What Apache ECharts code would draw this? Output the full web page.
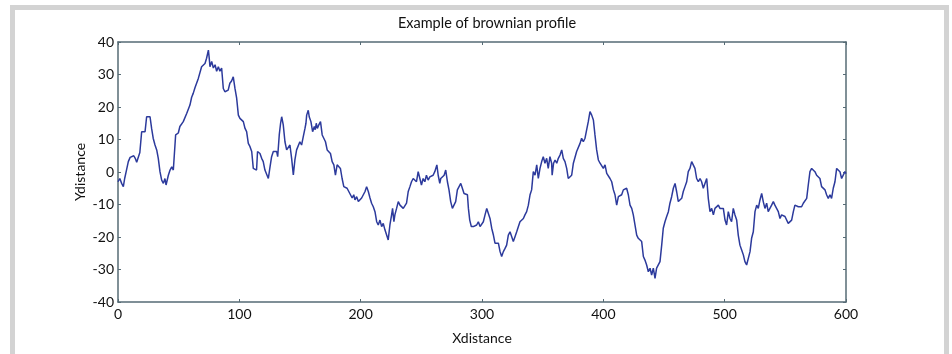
<!DOCTYPE html>
<html>
<head>
<meta charset="utf-8">
<script src="https://cdn.jsdelivr.net/npm/echarts@6/dist/echarts.min.js"></script>
<style>
  html, body { margin: 0; padding: 0; background: #fff; }
  #frame { position: absolute; left: 10px; top: 5px; width: 929px; height: 350px; border: 5px solid #d3d3d3; box-sizing: content-box; }
  #chart { position: absolute; left: 0; top: 0; width: 952px; height: 354px; }
</style>
</head>
<body>
<div id="frame"></div>
<div id="chart"></div>
<script>
// brownian profile
const xs = [
  0, 1.5, 3, 4.4, 5.5, 7, 8.5, 10, 11.5, 13, 14.2, 15.4, 18, 19.5, 21, 22.3, 23.6, 25, 26.4, 27.7,
  29, 30.5, 31.9, 33.2, 34.6, 36, 37.4, 38.7, 39.6, 41.5, 42.9, 44.3, 45.6, 46.5, 47.5, 48.4, 49.7, 51, 52.5, 53.8,
  55.2, 56.6, 59.3, 60.7, 62, 63.5, 64.8, 66.2, 67.5, 68.9, 70.3, 71.7, 73, 74.5, 75.2, 75.8, 77.2, 78.6, 80, 81.3,
  82.7, 84, 85.4, 86.8, 88.1, 89.5, 90.8, 92.2, 93.6, 95, 96.4, 97.8, 99.2, 100.5, 101.9, 103.3, 104.7, 106, 107.4, 108.8,
  110.2, 111.5, 112.9, 114.2, 115, 117, 118.4, 119.7, 121.1, 122.5, 123.9, 125.3, 126.6, 128, 129.4, 130.8, 131.6, 132.9, 134, 134.9,
  136.2, 137.6, 139, 140.4, 141.7, 143.1, 144.5, 145.8, 147.2, 148.6, 149.9, 151.3, 152.7, 154.1, 154.9, 155.5, 156.8, 157.6, 159, 160.4,
  161.8, 162.6, 163.4, 164.3, 165.5, 166.9, 168.3, 169.6, 171, 172.4, 173.7, 175.1, 176.5, 177.9, 179.2, 180.6, 182, 183.3, 184.7, 186.1,
  187.5, 188.8, 190.2, 191.6, 193, 194.3, 195.3, 196.7, 198.1, 199.5, 200.8, 202.2, 203.6, 204.9, 206.3, 207.7, 209, 210.4, 211.8, 213.2,
  214.5, 215.9, 217.3, 218.6, 220, 221.4, 222.7, 224.1, 225.5, 226.3, 227.4, 228.2, 229.6, 231, 232.4, 233.7, 235.1, 236.4, 237.8, 239.2,
  240.6, 241.9, 243.3, 244.7, 246, 247.4, 248.8, 250.1, 251.5, 252.9, 254.2, 255.6, 257, 258.3, 259.7, 261.1, 262, 262.8, 263.9, 265.2,
  266, 267.4, 268.8, 270.1, 271.5, 272.8, 274.2, 275.6, 277, 278.3, 279.7, 281.1, 282.5, 283.8, 285.2, 286.6, 288, 288.8, 289.9, 291.2,
  292.9, 294.2, 295.6, 297, 298.4, 299.7, 301.1, 302.5, 303.9, 305.2, 306.6, 308, 309.4, 310.7, 312.1, 313.5, 314.9, 316.2, 317.6, 319,
  320.3, 321.7, 323.1, 324.5, 325.8, 327.2, 328.6, 330, 331.3, 332.7, 334.1, 335.4, 336.8, 338.2, 339.6, 340.9, 342.3, 343.7, 345.1, 346.4,
  347.8, 349.2, 350.5, 351.9, 353.3, 354.6, 356, 357.4, 357.8, 359, 360.2, 361.6, 362.9, 364.3, 365.7, 367, 368.4, 369.8, 371.1, 372.5,
  373.9, 375.3, 376.6, 378, 379.4, 380.8, 382.1, 383.5, 384.9, 386.2, 387.6, 389, 390.4, 391.8, 393.1, 394.5, 395.9, 397.3, 398.6, 400,
  401.4, 402.8, 404.1, 405.5, 406.9, 408.3, 409.6, 411, 412.4, 413.8, 415.1, 416.5, 417.9, 419.2, 420.6, 422, 423.4, 424.7, 426.1, 427.5,
  428.8, 430.2, 431.6, 433, 434.3, 435.7, 437.1, 438.5, 439.8, 441.2, 442.6, 443.9, 445.3, 446.7, 448.1, 449.4, 450.8, 452.2, 453.6, 454.9,
  456.3, 457.7, 459.1, 460.4, 461.8, 463.2, 464.6, 465.9, 467.3, 468.7, 470, 471.4, 472.8, 474.2, 475.5, 476.9, 478.3, 479.7, 481, 482.4,
  483.8, 485.2, 486.5, 487.9, 489.3, 490.7, 492, 493.4, 494.8, 496.1, 497.5, 498.9, 500.3, 501.6, 503, 504.4, 505.7, 507.1, 508.5, 509.9,
  511.2, 512.6, 514, 515.4, 516.7, 518.1, 519.5, 520.9, 522.2, 523.6, 525, 526.4, 527.7, 529.1, 530.5, 531.8, 533.2, 534.6, 535.9, 537.3,
  538.7, 540.1, 541.4, 542.8, 544.2, 545.6, 546.9, 548.3, 549.7, 551.1, 552.4, 553.8, 555.2, 556.6, 557.9, 559.3, 560.7, 562.1, 563.4, 564.8,
  566.2, 567.6, 568.9, 570.3, 571.7, 573.1, 574.4, 575.8, 577.2, 578.5, 579.9, 581.3, 582.7, 584, 585.4, 586.8, 588.1, 589.5, 590.9, 592.3,
  593.6, 595, 596.4, 597.8, 599.1, 600
];
const ys = [
  -3, -2, -3.5, -4.5, -2, 0.6, 3.2, 4.5, 4, 5, 4.2, 3, 6, 12.4, 13, 12.4, 17, 16.5, 17, 13.4,
  10.4, 8.3, 6.8, 4.2, 0.1, -2.5, -3.5, -2, -4, -1, 0.6, 1.6, 0.6, 1.1, 11.4, 12, 12, 14, 14.5, 15.5,
  15, 18, 20.6, 23, 24.2, 26, 26.5, 28.8, 28.8, 32.4, 32.4, 33.4, 35, 37.5, 35, 32.4, 34, 32, 33, 31,
  32.4, 31, 32, 25.7, 24.7, 24.7, 25.2, 27.3, 28, 29.3, 25.7, 22.7, 17.5, 16.5, 16, 15.5, 13.4, 12.4, 8.8, 7.8,
  6.3, 1.1, 0.6, 0.6, 6.3, 5.7, 4.2, 3.2, 0.6, 0.1, -2, 1.6, 4.7, 6.3, 6.3, 6.3, 4.7, 11.4, 15, 17,
  14.5, 9.3, 6.8, 6.8, 8.3, 4.2, -0.9, 3.7, 6.8, 6.3, 9.3, 8.3, 10.9, 13.4, 15, 17.5, 19, 17, 15.5, 12.4,
  14, 13, 15, 13.4, 14.5, 15.5, 11.4, 11.4, 9.3, 6.8, 6.8, 5.7, 3.2, 2.2, -1, 2.2, 2.7, 1.1, -2, -4.5,
  -4.5, -5, -5.5, -7, -8, -7, -8.6, -7.6, -9.1, -9.6, -8, -7, -6, -4.5, -6, -8, -9.6, -10.7, -12.2, -15.3,
  -16.3, -14.8, -16.8, -15.8, -17.8, -19.4, -20.9, -16.3, -13.2, -11.2, -15.3, -13.2, -11.2, -9.1, -10.2, -9.6, -11.2, -11.7, -9.6, -6,
  -4.5, -3, -2, -1.4, -3, 0.1, -2, -4, -2, -3, -1, -2.5, -1.5, -2, -1, 0.1, 0.6, 2.2, -1, -3.5,
  -2, -2.5, -1, 0.6, -3, -5.5, -9.1, -11.2, -11.2, -9.1, -5.5, -5, -3.5, -5, -6.6, -6.6, -7, -11.2, -14.8, -16.8,
  -16.8, -16.3, -16.3, -15.3, -16.8, -16.3, -15.3, -13.2, -11.2, -11.7, -14.3, -17.3, -19.4, -21.9, -22.5, -21.9, -24.5, -26, -24.5, -23.5,
  -22.5, -19.4, -18.4, -19.9, -21.4, -19.9, -18.4, -16.8, -15.3, -14.8, -14.3, -13.2, -12.2, -10.2, -7, -5.5, 0.1, -1, 2.2, -2,
  1.1, 3.2, 4.7, 2.7, 4.2, 1.1, 4.7, 2.7, -1, 2.7, 3.7, 2.7, 4.2, 5.2, 6.8, 4.2, 3.2, 1.1, -2, -2.5,
  -1, 2.7, 3.2, 6.3, 6.8, 8.8, 10.4, 9.3, 10.4, 12.9, 15.5, 18.6, 17.5, 16, 11.4, 6.8, 3.7, 2.7, 2.2, 1.1,
  2.2, -0.4, 0.1, -2, -3, -5.5, -7, -10.2, -7.6, -7.6, -7, -5.5, -6, -5, -7, -10.2, -11.2, -13.2, -13.2, -19.4,
  -20.4, -19.9, -21.4, -26, -27.1, -28.6, -30.7, -29.6, -31.7, -29.6, -32.7, -29.6, -28.6, -27.6, -22.5, -17.3, -15.3, -13.7, -12.2, -9.6,
  -7.6, -5, -3.5, -6, -9.1, -9.1, -8.1, -6, -4.5, -3, 0.1, 1.1, 3.2, 3.7, 1.1, -2, -3, -2, -3, -5,
  -5, -2, -8.1, -12.2, -11.2, -13.2, -11.2, -10.7, -10.2, -11.2, -10.7, -11.2, -14.8, -16.3, -12.2, -14.3, -15.3, -11.2, -13.2, -14.8,
  -19.4, -22.5, -24, -25.5, -27.6, -28.6, -28.1, -24.5, -20.4, -18.4, -12.2, -10.2, -11.2, -8.6, -6.6, -9.1, -11.2, -9.6, -12.2, -11.2,
  -10.2, -9.1, -10.2, -11.2, -12.2, -14.3, -13.2, -13.2, -13.7, -13.7, -15.8, -15.8, -14.8, -12.2, -10.2, -10.7, -10.7, -10.2, -10.7, -9.6,
  -9.1, -8.1, -4, 0.1, 1.1, 0.6, 0.1, -1, -0.5, -2, -4.5, -5, -5.5, -7, -8.1, -7, -8.1, -5, -3, 1.1,
  1.6, 0.1, -2, -2.5, 0.1, -0.5
];
const xTicks = [0, 100, 200, 300, 400, 500, 600];
const yTicks = [-40, -30, -20, -10, 0, 10, 20, 30, 40];

const frameColor = '#566b75';
const font = 'Lato, "Open Sans", sans-serif';

const chart = echarts.init(document.getElementById('chart'), null, { renderer: 'canvas' });

const baseX = {
  type: 'value',
  min: xTicks[0],
  max: xTicks[xTicks.length - 1],
  interval: 100,
  axisLine: { show: true, onZero: false, lineStyle: { color: frameColor, width: 1.5 } },
  axisTick: { show: true, inside: true, length: 3, lineStyle: { color: frameColor } },
  splitLine: { show: false },
};
const baseY = {
  type: 'value',
  min: yTicks[0],
  max: yTicks[yTicks.length - 1],
  interval: 10,
  axisLine: { show: true, onZero: false, lineStyle: { color: frameColor, width: 1.5 } },
  axisTick: { show: true, inside: true, length: 3, lineStyle: { color: frameColor } },
  splitLine: { show: false },
};

chart.setOption({
  animation: false,
  title: {
    text: 'Example of brownian profile',
    left: 482,
    textAlign: 'center',
    top: 11,
    textStyle: { fontFamily: font, fontSize: 14.5, fontWeight: 'normal', color: '#111' },
  },
  grid: { left: 118, right: 106, top: 42, bottom: 52 },
  xAxis: [
    {
      ...baseX,
      position: 'bottom',
      name: 'Xdistance',
      nameLocation: 'middle',
      nameGap: 29,
      nameTextStyle: { fontFamily: font, fontSize: 14, color: '#111' },
      axisLabel: { fontFamily: font, fontSize: 14, color: '#111', margin: 5 },
    },
    { ...baseX, position: 'top', axisLabel: { show: false } },
  ],
  yAxis: [
    {
      ...baseY,
      position: 'left',
      name: 'Ydistance',
      nameLocation: 'middle',
      nameGap: 31,
      nameMoveOverlap: false,
      nameTextStyle: { fontFamily: font, fontSize: 14, color: '#111' },
      axisLabel: { fontFamily: font, fontSize: 14, color: '#111', margin: 4 },
    },
    { ...baseY, position: 'right', axisLabel: { show: false } },
  ],
  series: [{
    type: 'line',
    data: xs.map((x, i) => [x, ys[i]]),
    showSymbol: false,
    lineStyle: { color: '#2c3a9c', width: 1.5 },
    silent: true,
  }],
});
</script>
</body>
</html>
